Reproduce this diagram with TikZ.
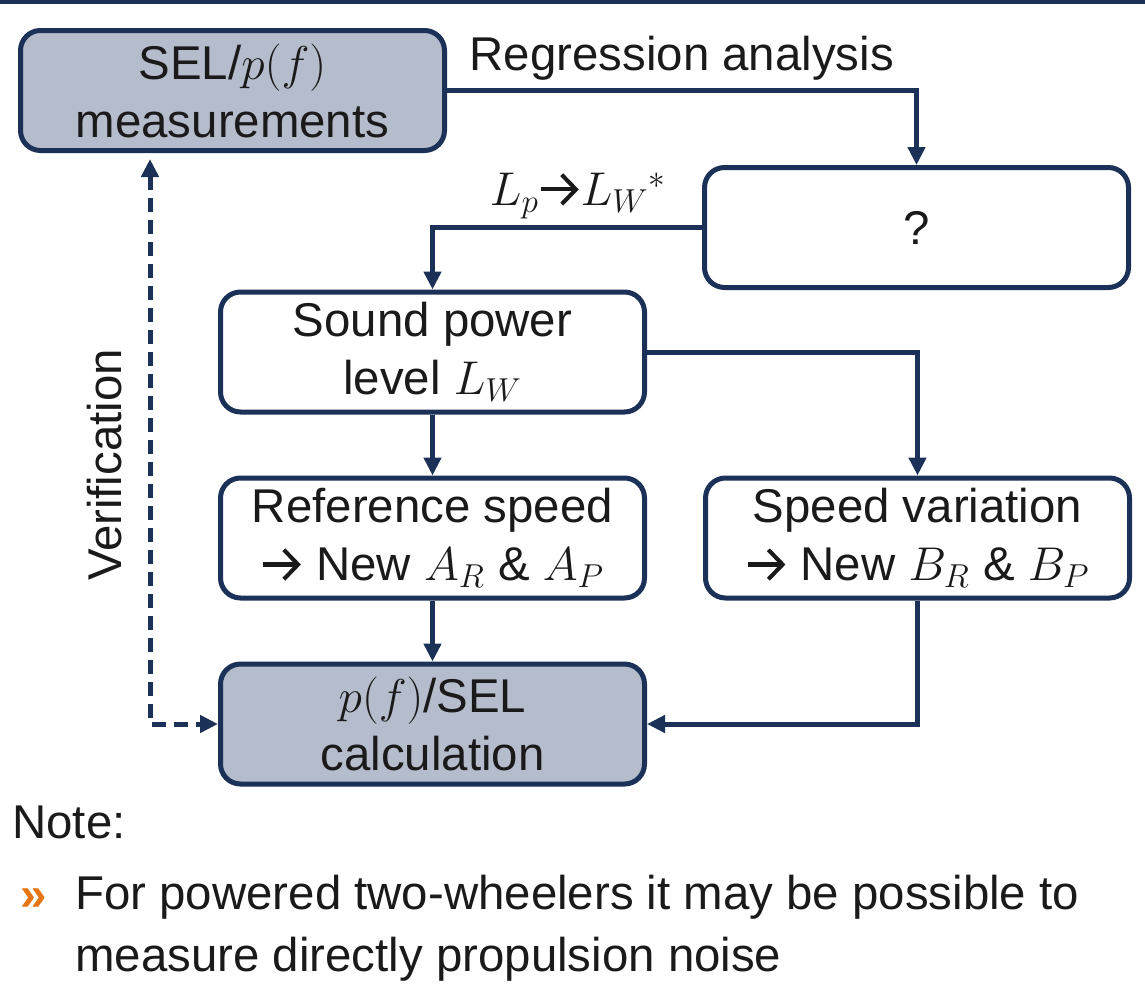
\RequirePackage{fix-cm}
\documentclass[tikz,border=0pt]{standalone}
\usepackage{fontspec}
\setmainfont{Liberation Sans}
\usetikzlibrary{arrows.meta,positioning}

\definecolor{navy}{RGB}{27,49,88}
\definecolor{boxgray}{RGB}{181,189,204}
\definecolor{ink}{RGB}{26,26,26}
\definecolor{bulletorange}{RGB}{230,118,20}

% chevron arrow used inside the box texts
\newcommand{\chevto}{\tikz[baseline=0pt]\draw[ink, line width=0.085em, -{Straight Barb[length=0.3em,width=0.62em]}] (0,0.34em) -- (0.8em,0.34em);}

\begin{document}
\begin{tikzpicture}[
    x=0.5pt, y=-0.5pt,
    node distance=30.5pt and 28pt,
    every node/.style={font=\fontsize{23.7}{29}\selectfont, text=ink},
    procbox/.style={rectangle, draw=navy, fill=white, line width=2.5pt, rounded corners=10pt, align=center, minimum width=212pt, minimum height=60pt, inner sep=0pt},
    measbox/.style={procbox, fill=boxgray},
    flow/.style={-{Triangle[length=9pt,width=8.5pt]}, line width=2.5pt, draw=navy},
    dashflow/.style={flow, {Triangle[length=9pt,width=8.5pt]}-{Triangle[length=9pt,width=8.5pt]}, dash pattern=on 7pt off 4pt},
    lbl/.style={inner sep=4pt}
]
    \useasboundingbox (0,0) rectangle (1145,996);
    \fill [navy] (0,0) rectangle (1145,4);

    \node [measbox] (meas) at (232.5,90.5) {SEL/$p(f)$\\measurements};
    \node [procbox] (unknown) at (916.5,227.5) {?};
    \node [procbox] (power) at (432.5,352) {Sound power\\level $L_W$};
    \node [procbox, below=of power] (refspeed) {Reference speed\\\chevto{} New $A_R$ \& $A_P$};
    \node [procbox, right=of refspeed] (speedvar) {Speed variation\\\chevto{} New $B_R$ \& $B_P$};
    \node [measbox, below=of refspeed] (calc) {$p(f)$/SEL\\calculation};

    \draw [flow] (meas.east) -| node [lbl, above, pos=0.25] {Regression analysis} (unknown.north);
    \draw [flow] (unknown.west) -| node [lbl, above, pos=0.23] {$L_p$\chevto$L_W{}^*$} (power.north);
    \draw [flow] (power.south) -- (refspeed.north);
    \draw [flow] (power.east) -| (speedvar.north);
    \draw [flow] (refspeed.south) -- (calc.north);
    \draw [flow] (speedvar.south) |- (calc.east);

    % verification loop
    \coordinate (vx) at (150,0);
    \draw [dashflow, shorten <=3pt] (meas.south -| vx) |- (calc.west);
    \node [rotate=90] (verif) at (105,465) {Verification};

    % note below the chart
    \node [anchor=base west, inner sep=0pt] (note) at (12,838) {Note:};
    \node [anchor=base west, inner sep=0pt, text=bulletorange, font=\fontsize{23.7}{29}\selectfont\bfseries] (bullet) at (20,910) {»};
    \node [anchor=north west, inner sep=0pt, align=left, font=\fontsize{23.7}{31}\selectfont] (notetext) at (75,875) {For powered two-wheelers it may be possible to\\measure directly propulsion noise};
\end{tikzpicture}
\end{document}
